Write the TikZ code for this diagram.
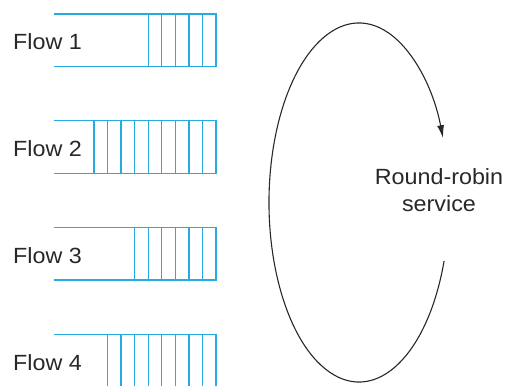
\documentclass[tikz,border=0pt]{standalone}
\usepackage{fontspec}
\usepackage{xcolor}
\usepackage{tikz}
\usetikzlibrary{arrows.meta}
\newfontfamily\lblfont[FakeStretch=1.06]{Liberation Sans}
\definecolor{qblue}{RGB}{38,170,225}
\definecolor{inkgray}{RGB}{40,40,40}

\begin{document}
\begin{tikzpicture}[x=1pt, y=1pt,
      flowlabel/.style={anchor=west, inner sep=0pt, text=inkgray,
                        font=\lblfont\fontsize{22}{26.7}\selectfont},
      svclabel/.style={align=center, inner sep=0pt, text=inkgray,
                       font=\lblfont\fontsize{22}{26.7}\selectfont},
      queue/.style={draw=qblue, line width=1.4pt},
      rrloop/.style={draw=inkgray, line width=1.1pt,
                     -{Latex[length=13pt, width=7pt]}},
    ]
    \useasboundingbox (0,0) rectangle (512,386);

    % Flow queues: row / number of buffered packets
    \foreach \r/\n in {1/5, 2/9, 3/6, 4/8} {
      \pgfmathsetmacro{\qtop}{372 - (\r-1)*106.8}
      \pgfmathsetmacro{\qbot}{\qtop - 52.5}
      \draw[queue] (54,\qtop) -- (216,\qtop) -- (216,\qbot) -- (54,\qbot);
      \foreach \k in {1,...,\n}
        \draw[queue] ({216-\k*13.56},\qtop) -- ({216-\k*13.56},\qbot);
      \node[flowlabel] (flow\r) at (13,{\qtop-28}) {Flow \r};
    }

    % Round-robin service
    \node[svclabel] (rr) at (439,196) {Round-robin\\service};

    % Service loop
    \coordinate (c) at (359,183.5);
    \coordinate (start) at ([shift={(-19:90 and 179.5)}]c);
    \draw[rrloop] (start) arc[start angle=-19, end angle=-339,
                              x radius=90, y radius=179.5];

  \end{tikzpicture}
\end{document}
